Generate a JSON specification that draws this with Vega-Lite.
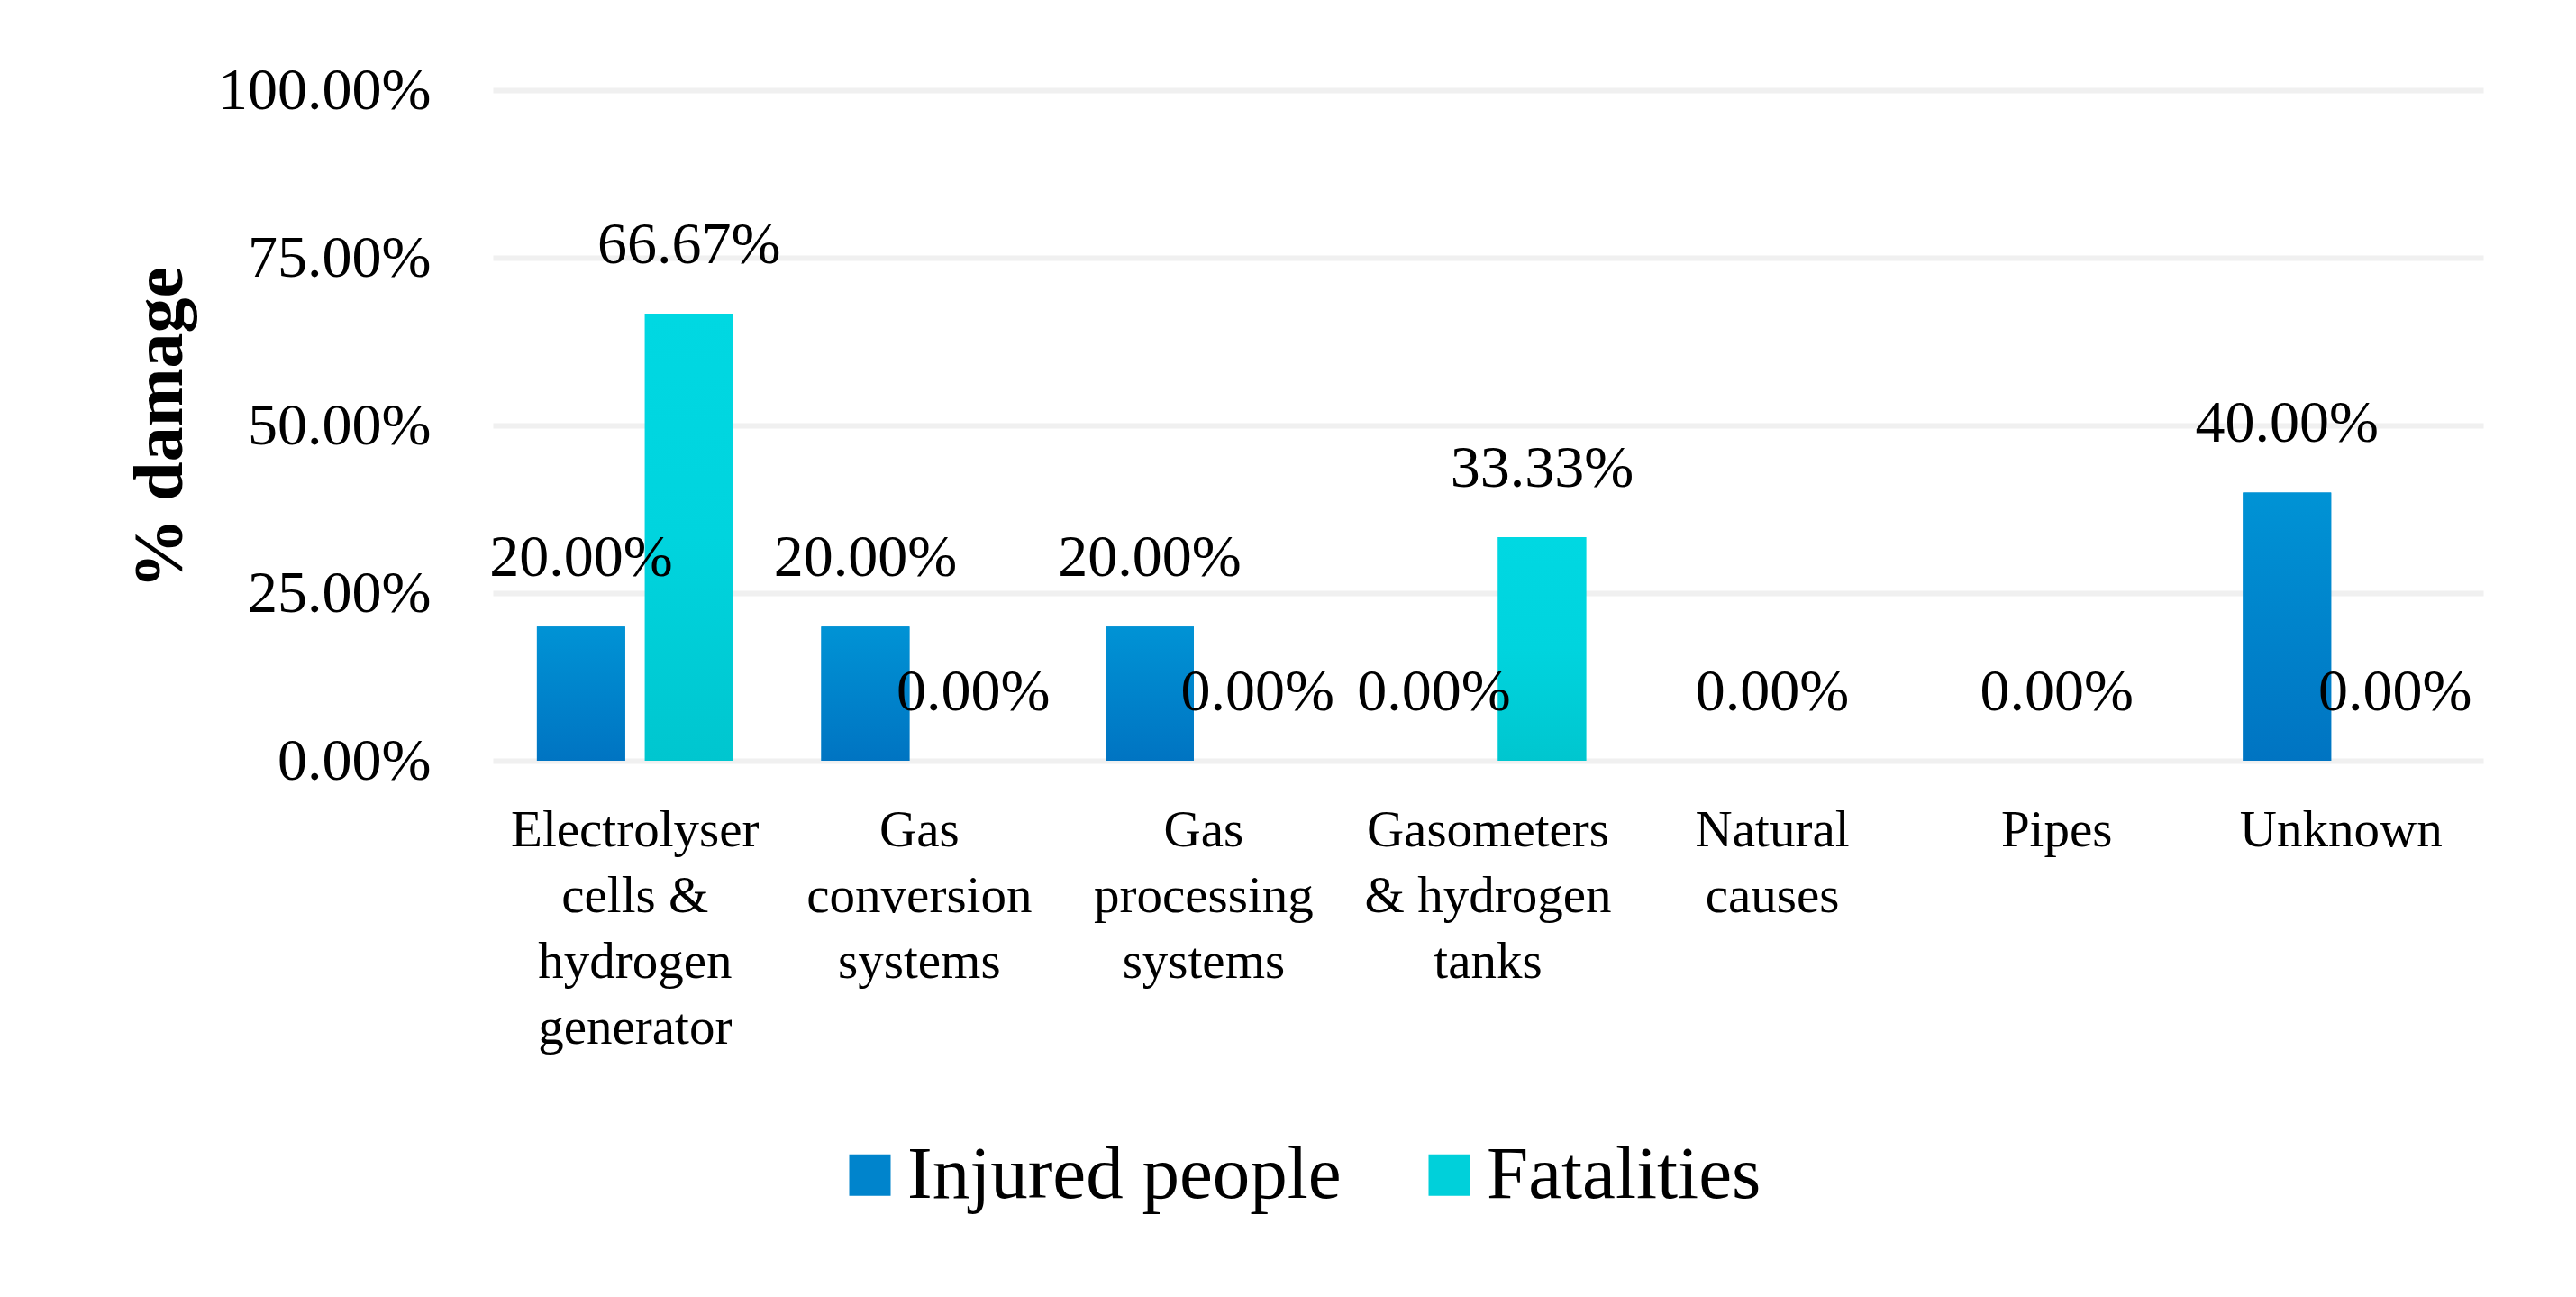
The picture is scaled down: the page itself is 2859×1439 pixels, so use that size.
{
  "$schema": "https://vega.github.io/schema/vega-lite/v6.json",
  "autosize": {"type": "none"},
  "width": 2209,
  "height": 744,
  "padding": {"left": 547, "top": 100, "right": 103, "bottom": 595},
  "background": "white",
  "config": {
    "view": {"stroke": null},
    "font": "Liberation Serif",
    "axis": {
      "labelFont": "Liberation Serif",
      "titleFont": "Liberation Serif",
      "labelColor": "black",
      "titleColor": "black",
      "ticks": false,
      "domain": false
    },
    "legend": {
      "labelFont": "Liberation Serif",
      "labelColor": "black"
    }
  },
  "data": {
    "values": [
      {"Category": "Electrolyser cells & hydrogen generator", "Series": "Injured people", "Value": 0.2},
      {"Category": "Electrolyser cells & hydrogen generator", "Series": "Fatalities", "Value": 0.6667},
      {"Category": "Gas conversion systems", "Series": "Injured people", "Value": 0.2},
      {"Category": "Gas conversion systems", "Series": "Fatalities", "Value": 0},
      {"Category": "Gas processing systems", "Series": "Injured people", "Value": 0.2},
      {"Category": "Gas processing systems", "Series": "Fatalities", "Value": 0},
      {"Category": "Gasometers & hydrogen tanks", "Series": "Injured people", "Value": 0},
      {"Category": "Gasometers & hydrogen tanks", "Series": "Fatalities", "Value": 0.3333},
      {"Category": "Natural causes", "Series": "Injured people", "Value": 0},
      {"Category": "Natural causes", "Series": "Fatalities", "Value": 0},
      {"Category": "Pipes", "Series": "Injured people", "Value": 0},
      {"Category": "Pipes", "Series": "Fatalities", "Value": 0},
      {"Category": "Unknown", "Series": "Injured people", "Value": 0.4},
      {"Category": "Unknown", "Series": "Fatalities", "Value": 0}
    ]
  },
  "transform": [
    {"joinaggregate": [{"op": "sum", "field": "Value", "as": "Total"}], "groupby": ["Category"]}
  ],
  "encoding": {
    "x": {
      "field": "Category",
      "type": "nominal",
      "sort": null,
      "title": null,
      "scale": {"paddingInner": 0.31, "paddingOuter": 0.155},
      "axis": {
        "labelAngle": 0,
        "labelFontSize": 57,
        "labelLineHeight": 73,
        "labelPadding": 49,
        "labelLimit": 0,
        "labelOverlap": false,
        "labelExpr": "datum.value == 'Electrolyser cells & hydrogen generator' ? ['Electrolyser', 'cells &', 'hydrogen', 'generator'] : datum.value == 'Gas conversion systems' ? ['Gas', 'conversion', 'systems'] : datum.value == 'Gas processing systems' ? ['Gas', 'processing', 'systems'] : datum.value == 'Gasometers & hydrogen tanks' ? ['Gasometers', '& hydrogen', 'tanks'] : datum.value == 'Natural causes' ? ['Natural', 'causes'] : datum.value"
      }
    },
    "y": {
      "field": "Value",
      "type": "quantitative",
      "title": "% damage",
      "scale": {"domain": [0, 1]},
      "axis": {
        "values": [0, 0.25, 0.5, 0.75, 1],
        "format": ".2%",
        "labelFontSize": 66,
        "labelPadding": 69,
        "labelLimit": 0,
        "titleFontSize": 78,
        "titleFontWeight": "bold",
        "titleBaseline": "middle",
        "titleX": -369,
        "titleY": 374,
        "gridColor": "#f0f0f0",
        "gridWidth": 6
      }
    },
    "xOffset": {
      "field": "Series",
      "type": "nominal",
      "sort": ["Injured people", "Fatalities"],
      "scale": {"paddingInner": 0.183, "paddingOuter": 0}
    }
  },
  "layer": [
    {
      "mark": {"type": "bar"},
      "encoding": {
        "color": {
          "field": "Series",
          "type": "nominal",
          "sort": ["Injured people", "Fatalities"],
          "scale": {
            "domain": ["Injured people", "Fatalities"],
            "range": ["#0084cc", "#00d0da"]
          },
          "legend": {
            "title": null,
            "orient": "none",
            "direction": "horizontal",
            "legendX": 377,
            "legendY": 1162,
            "symbolType": "square",
            "symbolSize": 2116,
            "symbolStrokeWidth": 0,
            "symbolOpacity": 1,
            "labelFontSize": 83,
            "labelOffset": 0,
            "columnPadding": 78,
            "labelLimit": 0
          }
        }
      }
    },
    {
      "transform": [{"filter": "datum.Series == 'Injured people'"}],
      "mark": {
        "type": "bar",
        "fill": {"gradient": "linear", "x1": 0, "y1": 0, "x2": 0, "y2": 1, "stops": [{"offset": 0, "color": "#0093d5"}, {"offset": 1, "color": "#0074c2"}]}
      },
      "encoding": {}
    },
    {
      "transform": [{"filter": "datum.Series == 'Fatalities'"}],
      "mark": {
        "type": "bar",
        "fill": {"gradient": "linear", "x1": 0, "y1": 0, "x2": 0, "y2": 1, "stops": [{"offset": 0, "color": "#00d8e2"}, {"offset": 0.5, "color": "#00d4de"}, {"offset": 1, "color": "#00c6cf"}]}
      },
      "encoding": {}
    },
    {
      "transform": [{"filter": "datum.Total > 0"}],
      "mark": {"type": "text", "baseline": "alphabetic", "dy": -56, "fontSize": 66, "color": "black"},
      "encoding": {
        "text": {"field": "Value", "type": "quantitative", "format": ".2%"}
      }
    },
    {
      "transform": [{"filter": "datum.Total == 0 && datum.Series == 'Injured people'"}],
      "mark": {"type": "text", "baseline": "alphabetic", "dy": -56, "fontSize": 66, "color": "black"},
      "encoding": {
        "xOffset": null,
        "text": {"field": "Value", "type": "quantitative", "format": ".2%"}
      }
    }
  ]
}
